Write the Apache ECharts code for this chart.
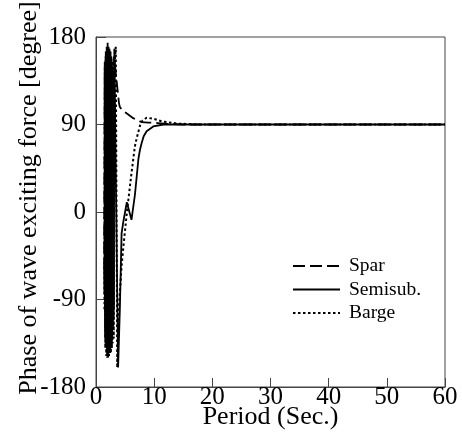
<!DOCTYPE html>
<html>
<head>
<meta charset="utf-8">
<script src="https://cdn.jsdelivr.net/npm/echarts@6/dist/echarts.min.js"></script>
<style>
html,body{margin:0;padding:0;background:#fff;}
#chart{width:462px;height:442px;}
</style>
</head>
<body>
<div id="chart"></div>
<script>
// [period (s), phase (deg)]
const seriesNames = ['Spar', 'Semisub.', 'Barge'];
const xTicks = [0, 10, 20, 30, 40, 50, 60];
const yTicks = [-180, -90, 0, 90, 180];

const spar = [
  [1.40,-60],[1.50,150],[1.58,-130],[1.66,160],[1.74,-140],[1.82,165],[1.90,-145],
  [1.98,160],[2.06,-142],[2.14,168],[2.22,-145],[2.30,160],[2.38,-138],[2.46,165],
  [2.54,-140],[2.62,158],[2.70,-132],[2.78,150],[2.86,-122],[2.94,140],[3.02,-110],
  [3.10,160],[3.95,112],[4.10,108],[4.50,105],[5.25,101.5],[6.40,96.5],[7.85,92.5],[9.0,92],
  [10.6,91.5],[13.0,90.5],[15.0,90],[20,90],[60,90]
];

const semisub = [
  [1.40,-60],[1.45,-85],[1.52,140],[1.60,-120],[1.68,165],[1.76,-130],[1.84,170],
  [1.92,-135],[2.00,174],[2.08,-140],[2.16,170],[2.24,-140],[2.32,168],[2.40,-138],
  [2.48,165],[2.56,-135],[2.64,160],[2.72,-130],[2.80,150],[2.88,-120],[2.96,140],
  [3.05,-100],[3.15,168],[3.80,-160],[4.10,-100],[4.40,-22],[4.70,-10],[5.30,10],
  [6.10,-8],[6.70,18],[7.30,55],[7.56,64],[7.85,71],[8.20,78],[8.70,83],[9.85,88],
  [11.6,90],[15,90],[60,90]
];

const barge = [
  [1.45,-100],[1.52,155],[1.60,-140],[1.68,160],[1.76,-148],[1.84,165],[1.92,-150],
  [2.00,168],[2.08,-150],[2.16,165],[2.24,-148],[2.32,162],[2.40,-145],[2.48,160],
  [2.56,-145],[2.64,158],[2.72,-140],[2.80,155],[2.88,-135],[2.96,150],[3.05,-130],
  [3.15,145],[3.40,170],[3.65,-160],[3.80,-124],[4.00,-92],[4.40,-56],[4.70,-36],
  [5.30,-1],[6.10,40],[6.40,54],[6.70,68],[7.00,76],[7.57,89],[8.00,94],[8.70,97],
  [9.80,96],[11.5,93],[13.9,91],[17.3,90],[60,90]
];

const font = 'Liberation Serif, Times New Roman, serif';
const axisColor = '#444';

const chart = echarts.init(document.getElementById('chart'), null, {renderer: 'canvas'});
chart.setOption({
  animation: false,
  backgroundColor: '#fff',
  grid: {left: 96, right: 17, top: 37, bottom: 55, outerBoundsMode: 'none', containLabel: false,
         show: true, borderColor: axisColor, borderWidth: 1, backgroundColor: 'transparent'},
  legend: {
    data: seriesNames,
    orient: 'vertical',
    left: 287, top: 251,
    itemWidth: 47, itemHeight: 14, itemGap: 3.5,
    itemStyle: {opacity: 0, borderWidth: 0},
    textStyle: {fontFamily: font, fontSize: 19.5, lineHeight: 20, color: '#000', padding: [0,0,0,4]}
  },
  xAxis: {
    type: 'value', min: xTicks[0], max: xTicks[xTicks.length-1], interval: 10,
    name: 'Period (Sec.)', nameLocation: 'middle', nameGap: 17, nameMoveOverlap: false,
    nameTextStyle: {fontFamily: font, fontSize: 26, color: '#000'},
    axisLine: {show: true, onZero: false, lineStyle: {color: axisColor, width: 1}},
    axisTick: {show: true, inside: true, length: 9, lineStyle: {color: axisColor}},
    axisLabel: {fontFamily: font, fontSize: 25, color: '#000', margin: -2},
    splitLine: {show: false}
  },
  yAxis: {
    type: 'value', min: yTicks[0], max: yTicks[yTicks.length-1], interval: 90,
    name: 'Phase of wave exciting force [degree]', nameLocation: 'middle', nameGap: 54, nameMoveOverlap: false,
    nameTextStyle: {fontFamily: font, fontSize: 26, color: '#000', padding: [0,0,0,28]},
    axisLine: {show: true, onZero: false, lineStyle: {color: axisColor, width: 1}},
    axisTick: {show: true, inside: true, length: 10, lineStyle: {color: axisColor}},
    axisLabel: {fontFamily: font, fontSize: 25, color: '#000', margin: 10},
    splitLine: {show: false}
  },
  series: [
    {name: seriesNames[0], type: 'line', data: spar, symbol: 'none', color: '#000',
     lineStyle: {color: '#000', width: 1.8, type: [12, 5]}},
    {name: seriesNames[1], type: 'line', data: semisub, symbol: 'none', color: '#000',
     lineStyle: {color: '#000', width: 1.8, type: 'solid'}},
    {name: seriesNames[2], type: 'line', data: barge, symbol: 'none', color: '#000',
     lineStyle: {color: '#000', width: 2, type: [2.5, 2.5]}}
  ]
});
</script>
</body>
</html>
